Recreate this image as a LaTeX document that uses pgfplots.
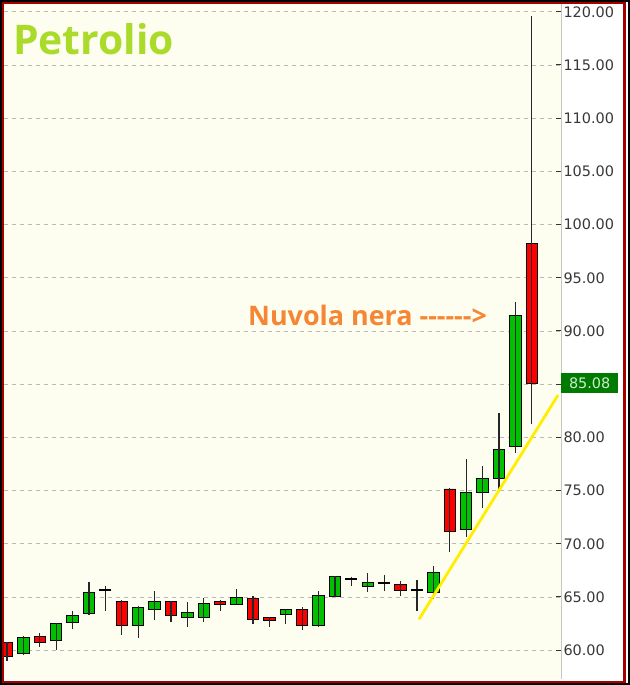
\documentclass[border=0pt]{standalone}
\usepackage{fontspec}
\usepackage{pgfplots}
\usepackage{pgfplotstable}
\pgfplotsset{compat=1.18}
\newfontfamily\ticksfont{DejaVu Sans}
\newfontfamily\labelfont{Open Sans}

\definecolor{bgivory}{RGB}{254,254,240}
\definecolor{candlegreen}{RGB}{0,192,0}
\definecolor{candlered}{RGB}{255,0,0}
\definecolor{framered}{RGB}{165,0,0}
\definecolor{trendyellow}{RGB}{255,238,0}
\definecolor{titlegreen}{RGB}{170,218,42}
\definecolor{noteorange}{RGB}{244,134,52}
\definecolor{pricegreen}{RGB}{0,122,0}
\definecolor{pricetext}{RGB}{200,240,200}

% idx open high low close
\pgfplotstableread{
idx open high low close
0 60.76 60.80 58.97 59.37
1 59.66 61.30 59.50 61.20
2 61.29 61.63 60.26 60.76
3 60.92 62.60 60.03 62.51
4 62.61 63.64 62.01 63.23
5 63.48 66.40 63.32 65.46
6 65.68 66.05 63.64 65.68
7 64.58 64.68 61.44 62.33
8 62.29 64.11 61.13 64.02
9 63.80 65.52 62.85 64.58
10 64.58 64.62 62.61 63.23
11 63.08 64.49 62.14 63.55
12 63.08 64.89 62.64 64.42
13 64.58 64.73 63.64 64.27
14 64.27 65.77 64.27 64.99
15 64.89 65.05 62.45 62.92
16 63.08 63.10 62.14 62.76
17 63.39 63.83 62.48 63.80
18 63.80 64.02 61.86 62.29
19 62.29 65.52 62.25 65.15
20 65.05 67.00 64.96 66.94
21 66.71 66.87 65.99 66.71
22 65.99 67.25 65.43 66.40
23 66.30 67.09 65.58 66.30
24 66.14 66.47 65.11 65.58
25 65.68 66.62 63.64 65.68
26 65.46 67.88 64.83 67.34
27 75.15 75.20 69.22 71.17
28 71.32 78.00 70.60 74.86
29 74.86 77.28 73.36 76.18
30 76.18 82.29 75.08 78.90
31 79.16 92.73 78.50 91.45
32 98.22 119.60 81.26 85.08
}\candles

\pgfplotsset{
  chartgeom/.style={
    at={(4bp,6bp)}, anchor=south west,
    scale only axis, width=557bp, height=675bp,
    xmin=-0.18, xmax=33.78, ymin=57.29, ymax=120.73,
    enlarge x limits=false, enlarge y limits=false,
  }
}

\begin{document}
\begin{tikzpicture}
\useasboundingbox (0,0) rectangle (630bp,685bp);
\fill[white] (0,0) rectangle (630bp,685bp);

\begin{axis}[
  chartgeom,
  axis x line=none,
  axis y line*=right,
  axis line style={draw=gray!45, line width=1bp},
  ytick={60,65,70,75,80,90,95,100,105,110,115,120},
  extra y ticks={85},
  extra y tick labels={},
  tick align=inside,
  major tick length=5bp,
  tick style={draw=black!80, line width=1bp},
  yticklabel={\pgfmathprintnumber[fixed,fixed zerofill,precision=2,assume math mode=true]{\tick}},
  yticklabel style={font=\ticksfont\fontsize{14.5}{16}\selectfont, text=black!78, xshift=-1bp},
  ymajorgrids,
  grid style={draw=gray!55, line width=0.8bp, dash pattern=on 4bp off 4bp},
  extra y tick style={grid style={draw=gray!55, line width=0.8bp, dash pattern=on 4bp off 4bp}},
  axis background/.style={fill=bgivory},
  ybar stacked, bar width=0.7,
]
% invisible base up to the body bottom, carrying the wick (low..high)
\addplot[draw=none, fill=none,
  error bars/.cd, y dir=both, y explicit, error mark=none,
  error bar style={line width=1.3bp, draw=black!85}]
  table[x=idx, y expr={min(\thisrow{open},\thisrow{close})},
        y error plus expr={\thisrow{high}-min(\thisrow{open},\thisrow{close})},
        y error minus expr={min(\thisrow{open},\thisrow{close})-\thisrow{low}}] {\candles};
% rising bodies
\addplot[fill=candlegreen, draw=black, line width=0.9bp]
  table[x=idx, y expr={max(\thisrow{close}-\thisrow{open},0)}] {\candles};
% falling bodies
\addplot[fill=candlered, draw=black, line width=0.9bp]
  table[x=idx, y expr={max(\thisrow{open}-\thisrow{close},0)}] {\candles};
\end{axis}

\begin{axis}[chartgeom, hide axis, clip=false]
% doji candles
\addplot[only marks, mark=-, mark size=6bp, mark options={line width=2.4bp, draw=black}]
  coordinates {(6,65.68) (21,66.71) (23,66.30) (25,65.68)};
% trend line
\addplot[line width=2.8bp, color=trendyellow] coordinates {(25.12,62.90) (33.6,83.98)};
% last price tag
\node[anchor=west, inner sep=0pt, minimum width=57bp, minimum height=20bp,
      fill=pricegreen, text=pricetext, font=\ticksfont\fontsize{14.5}{16}\selectfont]
  at (axis cs:33.78,85.08) {85.08};
\end{axis}

\node[anchor=base west, inner sep=0pt, text=titlegreen,
      font=\labelfont\bfseries\fontsize{41}{46}\selectfont] at (13bp,630bp) {Petrolio};
\node[anchor=base west, inner sep=0pt, text=noteorange,
      font=\labelfont\bfseries\fontsize{27}{32}\selectfont] at (248bp,359bp) {Nuvola nera -{}-{}-{}-{}-{}->};

\draw[line width=3bp, framered] (2.8bp,2.8bp) rectangle (624.5bp,682.2bp);
\draw[line width=1.6bp, black] (0.8bp,0.8bp) rectangle (629.2bp,684.2bp);
\draw[line width=4bp, black] (630bp,0) -- (630bp,685bp);
\end{tikzpicture}
\end{document}
